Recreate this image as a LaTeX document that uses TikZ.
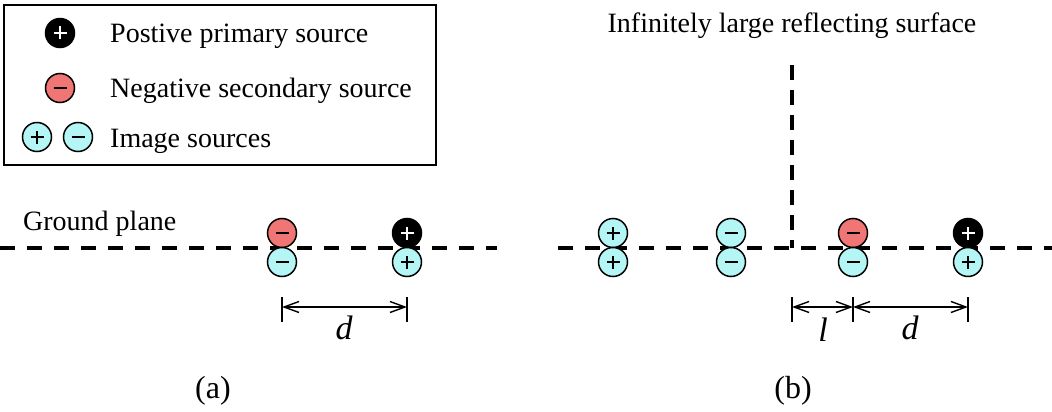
\documentclass[tikz,border=0pt]{standalone}
\usepackage{fontspec}
\setmainfont{Liberation Serif}
\usepackage{tikz}
\usetikzlibrary{arrows.meta, positioning}

\definecolor{secred}{RGB}{240,118,118}
\definecolor{imcyan}{RGB}{180,245,245}

\begin{document}
\begin{tikzpicture}[
  x=1pt, y=-1pt,
  src/.style={circle, draw=black, line width=1.5pt, minimum size=29pt, inner sep=0pt},
  sgnplus/.style={path picture={
      \draw[#1, line width=2.2pt] ([xshift=-6.5pt]path picture bounding box.center) -- ([xshift=6.5pt]path picture bounding box.center)
                                 ([yshift=-6.5pt]path picture bounding box.center) -- ([yshift=6.5pt]path picture bounding box.center);}},
  sgnminus/.style={path picture={
      \draw[#1, line width=2.2pt] ([xshift=-6.5pt]path picture bounding box.center) -- ([xshift=6.5pt]path picture bounding box.center);}},
  prim/.style={src, fill=black, sgnplus=white},
  sec/.style={src, fill=secred, sgnminus=black},
  impos/.style={src, fill=imcyan, sgnplus=black},
  imneg/.style={src, fill=imcyan, sgnminus=black},
  ground/.style={line width=3.5pt, dash pattern=on 15pt off 12pt},
  dim/.style={{Straight Barb[length=15pt,width=11pt]}-{Straight Barb[length=15pt,width=11pt]}, line width=1.4pt},
  tick/.style={line width=1.4pt},
  label/.style={font=\fontsize{28}{32}\selectfont, inner sep=0pt},
  caption/.style={font=\fontsize{32}{36}\selectfont, inner sep=0pt},
  sym/.style={font=\fontsize{34}{38}\selectfont\itshape, inner sep=0pt}
]
\useasboundingbox (0,0) rectangle (1052,412);

% Legend
\draw[line width=1.8pt] (4,5) rectangle (436,165);
\node[prim]  (lgprim) at (60, 33)  {};
\node[sec]   (lgsec)  at (60, 88)  {};
\node[impos] (lgpos)  at (37, 137) {};
\node[imneg] (lgneg)  at (78, 137) {};
\node[label, anchor=base west] (lgtxt1) at (110, 43)  {Postive primary source};
\node[label, anchor=base west] (lgtxt2) at (110, 97)  {Negative secondary source};
\node[label, anchor=base west] (lgtxt3) at (110, 147) {Image sources};

% (a) ground plane only
\coordinate (gaL) at (0, 248);
\coordinate (gaR) at (497, 248);
\draw[ground] (gaL) -- (gaR);
\node[label, anchor=base west] (gtxt) at (23, 230) {Ground plane};

\node[sec]   (aSec)  at (282, 233) {};
\node[imneg] (aImS)  at (282, 262) {};
\node[prim]  (aPrim) at (407, 233) {};
\node[impos] (aImP)  at (407, 262) {};

\coordinate (da1) at (282, 307);
\coordinate (da2) at (407, 307);
\draw[tick] ([yshift=10pt]da1) -- ([yshift=-15pt]da1);
\draw[tick] ([yshift=10pt]da2) -- ([yshift=-15pt]da2);
\draw[dim] (da1) -- (da2);
\node[sym, anchor=base] (dA) at (344, 339) {d};

\node[caption, anchor=base] (capA) at (213, 398) {(a)};

% (b) ground plane + reflecting surface
\coordinate (gbL) at (558, 248);
\coordinate (gbR) at (1052, 248);
\draw[ground] (gbL) -- (gbR);
\coordinate (wallT) at (792, 65);
\coordinate (wallB) at (792, 248);
\draw[line width=3.5pt, dash pattern=on 15pt off 10pt] (wallT) -- (wallB);
\node[label, anchor=base] (wtxt) at (792, 33) {Infinitely large reflecting surface};

\node[impos] (bIm1) at (613, 233) {};
\node[impos] (bIm2) at (613, 262) {};
\node[imneg] (bIm3) at (731, 233) {};
\node[imneg] (bIm4) at (731, 262) {};
\node[sec]   (bSec)  at (853, 233) {};
\node[imneg] (bImS)  at (853, 262) {};
\node[prim]  (bPrim) at (968, 233) {};
\node[impos] (bImP)  at (968, 262) {};

\coordinate (db0) at (792, 307);
\coordinate (db1) at (853, 307);
\coordinate (db2) at (968, 307);
\foreach \c in {db0, db1, db2}
  \draw[tick] ([yshift=10pt]\c) -- ([yshift=-15pt]\c);
\draw[dim] (db0) -- (db1);
\draw[dim] (db1) -- (db2);
\node[sym, anchor=base] (lB) at (823, 341) {l};
\node[sym, anchor=base] (dB) at (910, 339) {d};

\node[caption, anchor=base] (capB) at (793, 398) {(b)};

\end{tikzpicture}
\end{document}
